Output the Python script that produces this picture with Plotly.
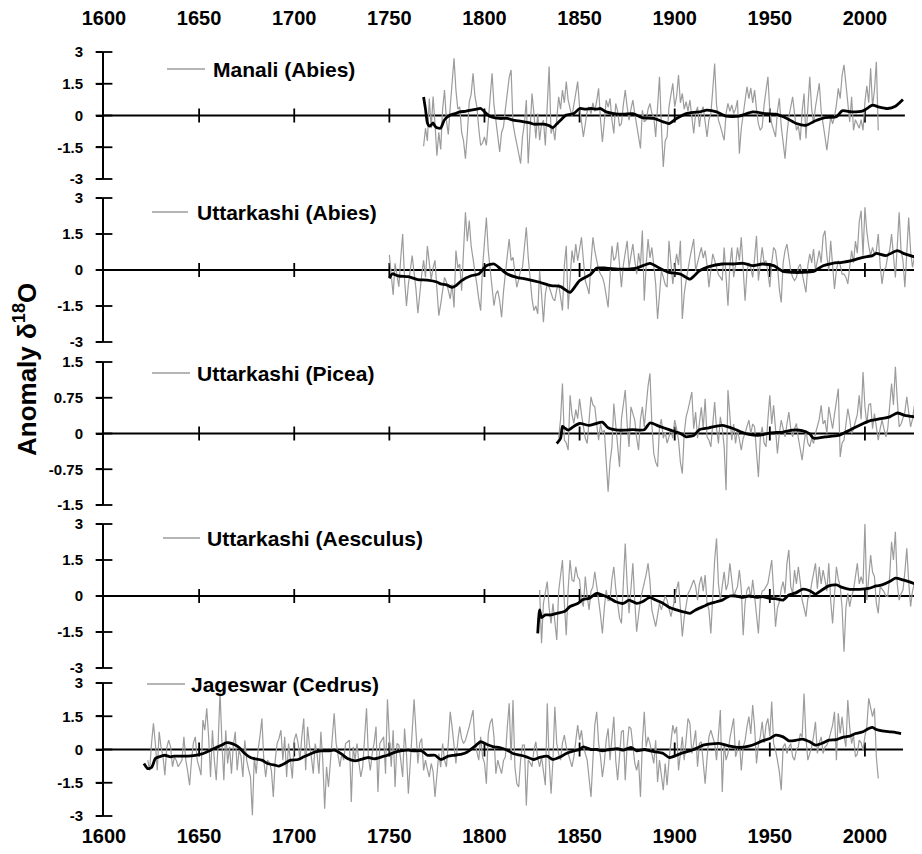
import plotly.graph_objects as go

# ---------------- data ----------------
PANEL_NAMES = ["Manali (Abies)", "Uttarkashi (Abies)", "Uttarkashi (Picea)",
               "Uttarkashi (Aesculus)", "Jageswar (Cedrus)"]

# annual series (grey), first year + values
MANALI_START = 1768
MANALI_ANNUAL = [
    -1.45, -0.6, -1.2, 0.8, -0.6, 0.9, -0.4, -1.9, -0.8, -1.6,
    0.3, 1.2, -0.22, -0.9, 0.4, 1.6, 2.7, 1.2, 0.3, 0.41,
    -0.8, -1.2, -2.04, -0.85, 0.65, 1.0, 1.99, 0.9, 0.41, -0.6,
    -1.41, -1.3, -1.01, -1.41, -0.3, 1.0, 1.99, 0.5, -0.22, -1.0,
    -1.72, -0.8, -0.54, 0.3, 1.2, 1.8, 2.15, -0.38, -0.9, -1.3,
    -1.8, -2.27, -1.0, -0.38, 0.73, -2.27, -0.5, 1.04, 0.1, -1.09,
    0.09, -1.17, -0.4, -0.22, -1.41, 0.5, 2.31, -0.85, -0.5, -1.17,
    -0.2, 0.88, 0.3, 1.2, 0.6, 1.6, 0.73, 0.3, -0.06, 0.5,
    1.1, 1.6, 0.41, -0.3, -1.01, -0.4, 0.2, 0.41, 0.09, 0.6,
    0.2, 0.7, 1.28, -0.2, -1.25, -0.3, 0.73, 0.4, 0.81, -0.2,
    -0.85, 0.57, 0.2, -0.5, -0.38, 0.5, 1.2, 0.4, -0.22, 0.3,
    0.73, 0.1, -0.54, -1.0, -1.56, 0.25, -0.3, -0.22, 0.3, 0.57,
    0.1, -0.06, -1.01, 0.5, 1.83, -0.5, -2.43, -1.2, -1.01, 0.41,
    0.9, 1.52, 0.41, 0.9, 1.91, 0.6, 1.04, 0.3, 0.65, 0.2,
    0.73, -0.2, -0.85, 0.1, 0.41, -0.54, 0.2, 0.41, -0.3, -1.01,
    -0.2, 0.09, 1.2, 2.46, 0.5, -0.22, -0.5, -0.8, -1.17, 0.1,
    0.57, 0.2, 0.5, 0.1, 0.3, 0.73, -1.8, -0.6, 0.09, 0.8,
    1.36, 0.8, 1.3, 0.6, 1.2, 0.3, -0.4, -0.7, -0.54, 0.5,
    1.2, 1.83, 0.2, -0.38, -0.7, -1.01, 0.2, 0.81, -0.5, -1.3, -2.04,
    -0.9, -0.06, 0.4, 0.88, 0.1, -0.7, -0.5, -1.17, 0.2, 1.04,
    -1.09, 0.5, 1.83, 0.3, -0.38, 0.4, 0.9, 1.52, 0.2, -0.54,
    -1.0, -1.64, -0.7, -0.06, -0.4, -0.06, 0.5, 1.28, 0.8, 1.9,
    2.39, 1.5, 0.73, -0.3, 0.88, -0.7, -0.2, -0.38, -0.6, -0.2,
    -0.7, 0.65, 1.4, 0.6, 2.23, 0.41, 1.2, 2.54, -0.7,
]

UTT_ABIES_START = 1750
UTT_ABIES_ANNUAL = [
    0.63, -0.3, -1.04, 0.28, -0.2, -0.7, 0.5, 1.5, -0.4, -1.5,
    -0.6, 0.1, 0.6, -0.1, -0.8, -1.8, -0.9, -0.2, 0.4, -0.3,
    1.0, 0.3, -0.4, 0.1, 0.4, -0.8, -1.9, -1.42, -0.9, -0.31,
    -0.5, -0.86, -1.2, -0.6, -1.56, 0.81, 0.1, 0.25, -0.86, 0.8,
    2.4, 1.2, 2.06, 1.0, 0.39, -0.03, -0.6, -1.2, -1.69, 0.11,
    1.2, 2.19, 0.8, -0.03, -0.8, -1.49, -1.0, -0.86, -1.28, -1.97,
    -0.9, -0.03, 0.6, 1.29, 0.4, 0.53, -0.2, -0.72, -0.4, 0.0,
    0.11, 0.9, 1.78, 0.53, -0.5, -1.2, -1.69, -1.5, -1.83, -0.03,
    -1.0, -2.18, -1.0, -0.58, -0.7, -1.0, -1.2, -1.28, -0.8, -0.58,
    -1.1, -1.69, 0.2, 1.01, -1.63, -0.3, 0.81, 0.3, 1.08, 0.39,
    0.8, 1.36, 0.4, -0.44, -0.7, -1.0, 0.3, 1.36, 0.8, 0.39,
    0.0, -0.17, -0.3, -0.58, -1.0, -1.56, -0.2, 1.01, 0.4, 0.53,
    1.15, 0.2, -0.72, 0.2, 0.8, 1.22, 0.11, 0.6, 1.08, 0.4,
    -0.17, 0.7, 0.2, 1.64, -1.28, 0.2, 1.29, 0.5, 0.94, 0.2,
    -0.58, -2.04, -0.8, -0.03, -0.3, -0.6, -0.72, 1.22, 0.3, -0.58,
    0.1, 0.67, 0.2, 1.22, -2.04, -1.0, -0.44, 0.1, 0.5, 0.9,
    1.29, -0.03, 0.3, 0.6, 0.94, 0.5, 0.81, 0.2, -0.72, 0.0,
    0.67, 0.4, 0.11, -0.2, -0.3, -0.44, 0.94, -0.3, -1.49, 0.2,
    0.94, -0.3, 0.2, 0.94, 0.4, 1.36, 0.2, -1.28, -0.03, 0.3,
    0.1, -0.31, 0.5, 1.43, -0.44, 0.4, 0.94, 0.3, 0.39, -0.1,
    -0.72, 0.3, 0.94, 0.81, 0.2, -0.8, -1.35, 0.3, 0.81, 1.08,
    0.5, -0.03, -0.3, -0.44, -0.31, 0.1, 0.25, -0.2, -0.5, -0.93,
    0.2, 0.67, 0.3, 0.875, -0.03, 0.4, 0.81, 0.3, 1.4, 1.64,
    0.6, -0.03, 1.22, 0.2, -0.79, 0.0, 0.39, 0.2, -0.17, -0.17,
    -0.3, -0.58, 0.2, 0.81, 0.3, 1.2, 0.7, 2.0, 2.47, 0.6,
    2.61, 1.6, 1.0, 0.6, 0.94, 0.67, 0.8, 1.5, 0.2, -0.58,
    0.0, 0.11, 0.6, 0.81, 1.5, 0.4, -0.31, 1.0, 2.4, 0.8,
    0.39, -0.72, 0.9, 2.19, 0.8, 0.11, 0.53, 0.4, 0.25,
]

UTT_PICEA_START = 1839
UTT_PICEA_ANNUAL = [
    -0.1, 0.3, 1.05, -0.14, -0.2, -0.35, 0.8, 0.4, 0.21, 0.5,
    0.31, 0.73, 0.4, 0.17, -0.1, -0.21, 0.3, 0.77, 0.6, 0.56,
    0.2, -0.14, 0.2, 0.0, 0.07, -0.5, -1.22, -0.6, -0.28, 0.63,
    0.21, -0.2, -0.7, 0.3, 0.6, 0.91, 0.2, -0.28, 0.56, 0.4,
    0.28, -0.1, -0.35, 0.3, 0.56, 0.14, 0.6, 1.0, 1.26, 0.2,
    -0.42, -0.6, -0.7, 0.14, 0.3, -0.1, 0.03, -0.2, -0.07, 0.1,
    -0.1, 0.28, 0.1, -0.14, -0.6, -0.84, 0.0, 0.35, 0.5, 0.7,
    0.87, 0.1, 0.45, -0.1, 0.21, 0.55, 0.1, 0.73, -0.07, -0.14,
    -0.28, 0.3, 0.66, 0.1, -0.21, 0.35, 0.1, -0.28, -1.19, 0.91,
    0.3, -0.14, 0.2, -0.21, 0.1, -0.14, -0.35, -0.1, 0.0, 0.15,
    0.28, 0.0, 0.2, 0.14, -0.3, -0.91, -0.1, 0.14, -0.2, -0.28,
    0.3, 0.8, 0.2, 0.59, 0.1, -0.42, 0.0, 0.28, 0.1, -0.07,
    0.2, 0.45, 0.1, -0.07, 0.1, 0.21, -0.1, -0.3, -0.56, -0.2,
    0.07, -0.2, -0.28, -0.1, -0.21, 0.0, 0.14, 0.3, 0.59, 0.2,
    0.28, 0.0, 0.56, 0.3, 0.1, 0.4, 0.7, 0.94, -0.49, -0.2,
    -0.14, 0.2, 0.52, 0.3, 0.0, 0.1, 0.28, 0.4, 0.8, 0.3,
    1.29, 0.56, 0.2, 0.6, 0.63, 0.1, 0.42, 0.1, -0.14, 0.1,
    0.28, 0.1, -0.07, 0.1, 0.5, 1.05, 0.6, 1.4, 0.7, 0.14,
    0.2, 0.35, 0.45, 0.77, 0.4, 0.14, 0.3, 0.59, 0.4, 0.28,
]

UTT_AESC_START = 1829
UTT_AESC_ANNUAL = [
    0.25, -1.97, -0.31, 0.2, 0.6, -0.5, -1.14, -0.31, -1.0, -1.83,
    0.2, 0.8, 1.5, -0.3, -1.63, 0.3, 1.5, 0.67, 0.6, 1.22,
    0.8, 0.67, -0.2, -0.44, 0.81, 0.0, -0.58, 0.2, 0.39, 1.01,
    0.3, -0.17, -0.8, -1.56, -0.5, 0.25, -0.2, -0.17, 0.7, 1.22,
    0.3, -0.44, -0.9, -1.14, 0.8, 2.19, 0.5, -0.72, 0.3, 1.36,
    -0.2, -1.49, -0.8, -0.17, 0.2, 0.53, 0.9, 1.36, 0.6, -0.58,
    -0.9, -1.28, -0.8, -0.3, -0.58, -0.3, 0.0, -0.17, -0.5, -0.86,
    -0.5, -0.17, 0.3, 0.6, -0.5, -1.69, -0.9, -0.44, 0.1, 0.25,
    0.5, 0.67, 0.4, -0.17, 0.5, 0.81, 0.2, 0.875, -0.3, -0.58,
    -1.56, 0.2, 1.5, 2.4, 0.5, -0.17, 0.4, 1.01, 0.25, 0.5,
    1.36, 0.5, -0.03, 0.2, 0.39, 1.08, 0.3, -1.63, -0.3, 0.25,
    0.39, -0.1, 0.67, 0.0, -0.9, -1.56, -0.17, 0.2, 0.25, 0.4,
    0.53, 1.0, 1.5, 0.2, -1.28, -0.5, -0.24, 0.3, 0.6, 0.1,
    1.36, 1.92, 0.4, 0.11, 1.08, 0.5, 1.22, 0.6, -0.17, -0.5,
    -0.86, -0.1, -0.03, 0.53, 0.9, 1.36, 0.3, 1.22, 0.5, 1.08,
    0.67, 0.2, 1.36, -0.2, -1.14, 0.3, 1.22, 0.7, 0.39, -0.5,
    -2.32, -0.5, 0.11, -0.44, 0.0, 0.25, 0.9, 1.36, 0.5, 0.81,
    0.5, 3.0, -0.17, 0.8, 1.71, 1.0, 0.81, -0.3, -0.72, 0.39,
    0.3, 0.18, 0.0, -0.03, 0.8, 2.26, 1.5, 2.68, 0.5, -0.17,
    0.1, 0.25, 1.0, 1.99, 0.6, -0.44, 0.2, 0.53, 0.4, 0.25,
]

JAGESWAR_START = 1623
JAGESWAR_ANNUAL = [
    -0.48, -0.94, 0.3, 1.18, 0.27, -0.94, 0.8, 0.1, -0.3, -1.16,
    0.1, 0.42, 0.12, -0.78, -0.33, -0.5, -0.78, -0.6, -0.48, 0.57,
    -0.48, -1.0, -1.61, -0.48, 0.3, 0.57, -0.48, -0.8, -1.16, 1.33,
    0.87, 1.86, 0.57, -1.24, 0.87, -0.48, -1.39, 0.27, 2.61, 0.3,
    -1.39, 0.87, -0.63, 0.12, -1.09, 0.2, 0.8, -0.94, -0.03, -0.3,
    -1.24, 0.42, -0.48, -0.9, -1.24, -2.97, -0.33, -1.09, -0.03, 0.6,
    1.4, -0.48, -1.24, -0.48, -0.6, -0.94, -2.14, -0.48, 0.27, 0.5,
    0.87, -0.48, 0.57, -1.24, 0.27, -0.5, -1.31, 0.42, 0.72, 0.3,
    -0.48, 0.57, 1.4, -0.94, 1.03, 0.2, -0.33, -1.09, 0.27, -0.2,
    -1.09, 0.8, -0.48, -2.67, -0.78, -1.69, -0.48, 0.5, 1.63, 0.3,
    -0.18, -0.78, -0.18, -0.48, 0.27, 0.35, 0.42, -2.37, 0.12, -0.48,
    0.27, -0.6, -1.24, -0.78, 0.5, 1.86, -0.33, -0.94, -0.18, 0.3,
    1.03, -1.92, 0.27, 0.42, 0.57, -1.09, 2.26, 0.5, -0.78, 0.87,
    -1.69, 0.27, 0.2, -0.48, -1.24, 0.95, -0.2, -1.99, -0.78, 0.8,
    2.26, 0.72, -0.63, 0.3, 0.5, -0.94, -0.48, -0.9, -1.24, -0.63,
    -1.0, -2.14, -0.94, -0.18, -0.8, 0.27, -0.48, -0.78, 0.3, 1.7,
    1.0, 0.2, -0.63, 0.4, 1.03, 0.5, 0.27, 0.42, 0.7, 1.03,
    1.4, 1.78, 0.27, -0.2, -0.48, 0.57, -0.33, -0.6, -1.54, 0.72,
    1.2, 1.4, 0.57, -1.09, -0.48, -0.8, -1.09, -0.5, -0.33, 1.0,
    2.08, -0.48, 2.23, -0.78, -1.54, -1.69, -0.48, 0.2, 0.2, -2.52,
    -0.48, -0.6, -0.78, -0.03, 0.35, -0.4, -0.78, -0.33, -0.9, -1.61,
    2.08, -0.5, -1.99, -0.48, 1.93, 0.27, -0.2, -0.48, 0.3, 0.65,
    0.12, -0.18, -0.5, -0.78, -0.33, 0.5, 1.1, 0.42, 0.87, 0.12,
    -0.2, -0.48, -1.3, -2.14, -0.48, 1.1, 1.7, 0.3, -0.33, -1.24,
    -0.6, 0.42, 0.95, -0.48, 0.5, 1.48, -0.48, -1.39, -0.3, 0.8,
    0.87, -1.39, 0.2, 1.03, 0.95, 0.12, -0.6, -0.94, -0.48, -2.14,
    0.3, 1.7, 0.12, 0.57, 0.27, -0.2, -0.63, 0.42, -1.46, -0.48,
    -1.1, -1.84, -0.63, -1.61, -0.48, 0.5, 1.1, 0.72, 1.03, -0.94,
    -0.2, 0.57, -0.48, 0.6, 1.4, 1.18, -0.18, 0.3, 0.87, -0.78,
    0.27, 0.35, -0.5, -1.54, -0.4, 0.57, 0.87, 0.5, 0.27, -0.48,
    0.6, 1.78, -1.92, 0.27, -0.48, -0.18, 0.5, 1.0, 1.4, -0.33,
    -0.03, 0.42, -0.94, 0.12, 0.4, 1.03, 1.48, 0.7, 2.01, 1.03,
    -0.63, 0.2, 0.57, 1.25, 0.3, 1.1, 1.4, 0.6, 2.16, 0.27,
    -0.03, -0.48, -1.0, -1.84, 0.12, 0.27, -0.18, 0.1, 0.27, -0.33,
    -0.48, 0.0, 0.12, 0.72, 0.57, 2.53, 0.5, -0.48, -0.18, 0.12,
    0.6, 1.25, -0.18, 0.3, 0.57, -0.18, 0.12, 0.2, 0.42, 0.72,
    1.1, 1.7, -0.48, 1.63, 0.72, 1.48, 0.6, 0.12, 2.23, 1.0,
    0.27, 0.65, -0.33, -0.2, 0.42, 0.3, -0.03, 0.6, 1.03, 2.31,
    1.93, 1.48, 1.86, -0.33, -1.31,
]

# smoothed series (black): years and values
MANALI_SMOOTH_YEARS = [1768, 1769, 1770, 1771, 1772, 1773, 1774, 1775, 1776, 1777, 1779, 1782, 1785,
                       1787, 1790, 1793, 1796, 1798, 1801, 1803, 1805, 1808, 1812, 1815, 1818, 1821,
                       1824, 1826, 1829, 1831, 1834, 1836, 1838, 1840, 1843, 1847, 1850, 1853, 1856,
                       1859, 1861, 1864, 1868, 1873, 1878, 1883, 1889, 1894, 1897, 1901, 1906, 1910,
                       1913, 1917, 1922, 1927, 1934, 1941, 1948, 1953, 1959, 1964, 1969, 1974, 1979,
                       1985, 1988, 1993, 1999, 2004, 2007, 2012, 2016, 2020]
MANALI_SMOOTH = [0.87, 0.3, -0.35, -0.5, -0.45, -0.35, -0.5, -0.58, -0.6, -0.6, -0.2, 0.02, 0.1,
                 0.17, 0.2, 0.25, 0.3, 0.33, 0.09, -0.05, -0.1, -0.14, -0.14, -0.22, -0.25, -0.3,
                 -0.35, -0.41, -0.41, -0.41, -0.48, -0.57, -0.4, -0.22, 0.02, 0.09, 0.33, 0.3, 0.33,
                 0.3, 0.33, 0.17, 0.09, 0.06, 0.09, -0.1, -0.14, -0.3, -0.38, -0.14, 0.09, 0.15,
                 0.17, 0.25, 0.17, -0.03, -0.03, 0.17, 0.09, 0.06, -0.14, -0.38, -0.46, -0.25, -0.1,
                 -0.06, 0.22, 0.17, 0.22, 0.49, 0.41, 0.33, 0.44, 0.76]

UTT_ABIES_SMOOTH_YEARS = [1750, 1751, 1752, 1753, 1755, 1760, 1765, 1770, 1775, 1777, 1780, 1783, 1785,
                          1788, 1793, 1797, 1801, 1805, 1808, 1812, 1817, 1822, 1829, 1835, 1840, 1845,
                          1850, 1856, 1859, 1864, 1870, 1875, 1880, 1887, 1892, 1897, 1903, 1908, 1913,
                          1918, 1925, 1931, 1936, 1941, 1946, 1952, 1957, 1962, 1967, 1973, 1978, 1983,
                          1988, 1993, 1999, 2004, 2006, 2011, 2017, 2021, 2028]
UTT_ABIES_SMOOTH = [-0.35, -0.2, -0.15, -0.2, -0.25, -0.28, -0.4, -0.42, -0.5, -0.58, -0.62, -0.72, -0.65,
                    -0.44, -0.24, -0.17, 0.18, 0.25, 0.08, -0.17, -0.31, -0.38, -0.51, -0.65, -0.69, -0.93,
                    -0.44, -0.17, 0.08, 0.08, 0.04, 0.04, 0.08, 0.28, 0.08, -0.1, -0.17, -0.38, -0.03,
                    0.14, 0.25, 0.25, 0.28, 0.18, 0.25, 0.18, -0.06, -0.1, -0.1, -0.06, 0.18, 0.28,
                    0.32, 0.39, 0.53, 0.6, 0.69, 0.6, 0.81, 0.67, 0.5]

UTT_PICEA_SMOOTH_YEARS = [1838, 1840, 1841, 1842, 1844, 1847, 1850, 1855, 1858, 1862, 1865, 1870, 1874,
                          1878, 1884, 1887, 1892, 1897, 1903, 1906, 1910, 1913, 1918, 1925, 1931, 1935,
                          1939, 1944, 1950, 1957, 1962, 1967, 1971, 1973, 1979, 1986, 1992, 1997, 2002,
                          2007, 2013, 2017, 2021, 2028]
UTT_PICEA_SMOOTH = [-0.21, -0.1, 0.15, 0.12, 0.07, 0.15, 0.21, 0.17, 0.2, 0.24, 0.12, 0.07, 0.07,
                    0.08, 0.08, 0.22, 0.15, 0.08, 0.0, -0.07, -0.04, 0.08, 0.12, 0.17, 0.1, 0.03,
                    -0.02, -0.04, 0.01, 0.03, 0.07, 0.06, -0.01, -0.1, -0.07, -0.04, 0.07, 0.17, 0.26,
                    0.3, 0.35, 0.43, 0.38, 0.34]

UTT_AESC_SMOOTH_YEARS = [1828, 1829, 1830, 1832, 1835, 1838, 1842, 1845, 1849, 1852, 1855, 1859, 1862,
                         1866, 1869, 1873, 1876, 1880, 1883, 1887, 1890, 1894, 1897, 1901, 1904, 1908,
                         1911, 1915, 1918, 1922, 1925, 1929, 1932, 1936, 1939, 1943, 1946, 1950, 1953,
                         1957, 1960, 1964, 1967, 1971, 1974, 1978, 1981, 1985, 1988, 1992, 1997, 2002,
                         2006, 2009, 2013, 2016, 2020, 2023, 2028]
UTT_AESC_SMOOTH = [-1.56, -0.58, -0.9, -0.79, -0.79, -0.72, -0.65, -0.44, -0.31, -0.14, -0.1, 0.11, 0.04,
                   -0.1, -0.24, -0.31, -0.17, -0.31, -0.24, -0.06, -0.17, -0.31, -0.47, -0.58, -0.65, -0.72,
                   -0.58, -0.44, -0.33, -0.24, -0.17, 0.0, 0.0, -0.06, 0.0, -0.06, -0.03, -0.1, -0.11,
                   -0.17, 0.04, 0.14, 0.28, 0.22, 0.08, 0.28, 0.42, 0.46, 0.36, 0.28, 0.28, 0.32,
                   0.42, 0.46, 0.6, 0.74, 0.67, 0.6, 0.46]

JAGESWAR_SMOOTH_YEARS = [1621, 1623, 1625, 1627, 1629, 1632, 1635, 1637, 1641, 1644, 1648, 1651, 1654,
                         1656, 1659, 1662, 1664, 1666, 1669, 1671, 1674, 1677, 1679, 1683, 1686, 1690,
                         1692, 1695, 1698, 1702, 1705, 1709, 1711, 1714, 1718, 1721, 1725, 1728, 1732,
                         1735, 1739, 1742, 1746, 1749, 1752, 1756, 1760, 1763, 1767, 1770, 1774, 1777,
                         1781, 1784, 1788, 1791, 1795, 1798, 1801, 1805, 1808, 1812, 1815, 1819, 1822,
                         1826, 1829, 1833, 1836, 1840, 1843, 1847, 1850, 1852, 1856, 1859, 1862, 1866,
                         1870, 1873, 1877, 1880, 1884, 1887, 1890, 1894, 1897, 1901, 1904, 1908, 1911,
                         1915, 1918, 1924, 1929, 1934, 1939, 1943, 1946, 1950, 1953, 1957, 1960, 1964,
                         1967, 1971, 1974, 1978, 1981, 1985, 1988, 1992, 1995, 1999, 2002, 2004, 2006,
                         2009, 2013, 2016, 2019]
JAGESWAR_SMOOTH = [-0.63, -0.86, -0.81, -0.41, -0.33, -0.26, -0.33, -0.3, -0.3, -0.3, -0.26, -0.21, -0.11,
                   -0.03, 0.09, 0.2, 0.3, 0.3, 0.2, 0.09, -0.18, -0.36, -0.41, -0.48, -0.63, -0.71,
                   -0.75, -0.63, -0.48, -0.45, -0.33, -0.18, -0.11, -0.06, -0.06, -0.03, -0.21, -0.41, -0.51,
                   -0.45, -0.36, -0.42, -0.33, -0.26, -0.15, -0.06, -0.03, -0.06, -0.06, -0.26, -0.26, -0.45,
                   -0.3, -0.26, -0.21, -0.11, 0.15, 0.35, 0.24, 0.12, 0.09, -0.03, -0.18, -0.26, -0.33,
                   -0.45, -0.36, -0.3, -0.45, -0.33, -0.18, -0.06, 0.0, 0.12, 0.0, 0.0, -0.06, 0.0,
                   0.04, -0.03, 0.09, -0.06, 0.0, -0.06, -0.11, -0.18, -0.36, -0.26, -0.15, -0.06, 0.04,
                   0.2, 0.24, 0.27, 0.15, 0.09, 0.15, 0.27, 0.39, 0.5, 0.65, 0.57, 0.39, 0.42,
                   0.47, 0.35, 0.2, 0.3, 0.42, 0.45, 0.54, 0.6, 0.72, 0.8, 0.95, 1.0, 0.9,
                   0.84, 0.8, 0.77, 0.72]

# axis tick labels
X_TICKS = [1600, 1650, 1700, 1750, 1800, 1850, 1900, 1950, 2000]
Y_TICKS_WIDE = [3, 1.5, 0, -1.5, -3]
Y_TICKTEXT_WIDE = ["3", "1.5", "0", "-1.5", "-3"]
Y_TICKS_NARROW = [1.5, 0.75, 0, -0.75, -1.5]
Y_TICKTEXT_NARROW = ["1.5", "0.75", "0", "-0.75", "-1.5"]
Y_LIMITS = [3, 3, 1.5, 3, 3]
X_MIN, X_MAX = 1600, 2030
ZERO_LINE_END = [2021, 2030, 2030, 2030, 2020]

# ---------------- layout geometry (window pixels of the 922 x 854 view) ----------------
VIEW_W, VIEW_H = 922, 854
BODY_MARGIN = 8                      # default page margin in front of the plot div
W, H = VIEW_W - BODY_MARGIN, VIEW_H - BODY_MARGIN
PANEL_PX = [(52, 179), (198, 342), (362, 505), (524, 668), (683, 816)]   # top, bottom
LEGEND_PX = [(167, 205, 211, 69), (152, 188, 195, 212), (152, 190, 195, 373),
             (163, 200, 205, 538), (147, 185, 189, 684)]              # line x0,x1,text x, y
X_LEFT_PX = 104
YLABEL_PX = (25, 370)


def px_x(p):
    return (p - BODY_MARGIN) / W


def px_y(p):
    return 1 - (p - BODY_MARGIN) / H


FONT = "Liberation Sans, Arial, sans-serif"
GREY = "#9c9c9c"

annual = [(MANALI_START, MANALI_ANNUAL), (UTT_ABIES_START, UTT_ABIES_ANNUAL),
          (UTT_PICEA_START, UTT_PICEA_ANNUAL), (UTT_AESC_START, UTT_AESC_ANNUAL),
          (JAGESWAR_START, JAGESWAR_ANNUAL)]
smooth = [(MANALI_SMOOTH_YEARS, MANALI_SMOOTH), (UTT_ABIES_SMOOTH_YEARS, UTT_ABIES_SMOOTH),
          (UTT_PICEA_SMOOTH_YEARS, UTT_PICEA_SMOOTH), (UTT_AESC_SMOOTH_YEARS, UTT_AESC_SMOOTH),
          (JAGESWAR_SMOOTH_YEARS, JAGESWAR_SMOOTH)]

fig = go.Figure()
layout = {}
shapes = []
annotations = []

for i in range(5):
    n = i + 1
    xa = "x" if n == 1 else f"x{n}"
    ya = "y" if n == 1 else f"y{n}"
    xk = "xaxis" if n == 1 else f"xaxis{n}"
    yk = "yaxis" if n == 1 else f"yaxis{n}"
    lim = Y_LIMITS[i]
    if lim == 1.5:
        tv, tt = Y_TICKS_NARROW, Y_TICKTEXT_NARROW
    else:
        tv, tt = Y_TICKS_WIDE, Y_TICKTEXT_WIDE

    # zero line (horizontal axis)
    fig.add_trace(go.Scatter(x=[X_MIN, ZERO_LINE_END[i]], y=[0, 0], xaxis=xa, yaxis=ya,
                             mode="lines", line=dict(color="black", width=1.8),
                             hoverinfo="skip", showlegend=False, cliponaxis=False))
    # crossing tick marks on zero line
    fig.add_trace(go.Scatter(x=X_TICKS[1:], y=[0] * (len(X_TICKS) - 1), xaxis=xa, yaxis=ya,
                             mode="markers",
                             marker=dict(symbol="line-ns", size=10, color="black",
                                         line=dict(width=1.8, color="black")),
                             hoverinfo="skip", showlegend=False, cliponaxis=False))
    # crossing tick marks on y axis
    fig.add_trace(go.Scatter(x=[X_MIN] * len(tv), y=tv, xaxis=xa, yaxis=ya,
                             mode="markers",
                             marker=dict(symbol="line-ew", size=12, color="black",
                                         line=dict(width=1.8, color="black")),
                             hoverinfo="skip", showlegend=False, cliponaxis=False))
    # annual grey series
    start, vals = annual[i]
    fig.add_trace(go.Scatter(x=list(range(start, start + len(vals))), y=vals, xaxis=xa, yaxis=ya,
                             mode="lines", line=dict(color=GREY, width=1.2),
                             name=PANEL_NAMES[i], hoverinfo="skip", showlegend=False))
    # smoothed black series
    sy, sv = smooth[i]
    fig.add_trace(go.Scatter(x=sy, y=sv, xaxis=xa, yaxis=ya, mode="lines",
                             line=dict(color="black", width=2.8, shape="spline", smoothing=0.6),
                             hoverinfo="skip", showlegend=False))

    top_px, bot_px = PANEL_PX[i]
    xaxis = dict(domain=[px_x(X_LEFT_PX), 1.0], range=[X_MIN, X_MAX], anchor=ya,
                 showgrid=False, zeroline=False, showline=False, ticks="",
                 showticklabels=False, fixedrange=True, automargin=False)
    if n == 1:
        xaxis.update(showticklabels=True, side="top", tickvals=X_TICKS,
                     tickfont=dict(family=FONT, size=20, color="black", weight="bold"),
                     ticklabelstandoff=22)
    if n == 5:
        xaxis.update(showticklabels=True, side="bottom", tickvals=X_TICKS,
                     tickfont=dict(family=FONT, size=20, color="black", weight="bold"),
                     ticklabelstandoff=6)
    layout[xk] = xaxis
    layout[yk] = dict(domain=[px_y(bot_px), px_y(top_px)], range=[-lim, lim], anchor=xa,
                      showgrid=False, zeroline=False, showline=True, linecolor="black",
                      linewidth=2, ticks="outside", ticklen=6, tickwidth=1.8, tickcolor="black",
                      tickvals=tv, ticktext=tt, ticklabelstandoff=10, automargin=False,
                      tickfont=dict(family=FONT, size=15, color="black", weight="bold"),
                      fixedrange=True)

    lx0, lx1, tx, ly = LEGEND_PX[i]
    shapes.append(dict(type="line", xref="paper", yref="paper", x0=px_x(lx0), x1=px_x(lx1),
                       y0=px_y(ly), y1=px_y(ly), line=dict(color=GREY, width=1.5)))
    annotations.append(dict(text=PANEL_NAMES[i], xref="paper", yref="paper", x=px_x(tx),
                            y=px_y(ly), xanchor="left", yanchor="middle", showarrow=False,
                            font=dict(family=FONT, size=21, color="black", weight="bold")))

annotations.append(dict(text="Anomaly δ<sup>18</sup>O", xref="paper", yref="paper",
                        x=px_x(YLABEL_PX[0]), y=px_y(YLABEL_PX[1]), xanchor="center",
                        yanchor="middle", textangle=-90, showarrow=False,
                        font=dict(family=FONT, size=26, color="black", weight="bold")))

fig.update_layout(width=W, height=H, margin=dict(l=0, r=0, t=0, b=0, pad=0, autoexpand=False),
                  paper_bgcolor="white", plot_bgcolor="white", showlegend=False,
                  shapes=shapes, annotations=annotations, **layout)

fig.write_html("out.html")
